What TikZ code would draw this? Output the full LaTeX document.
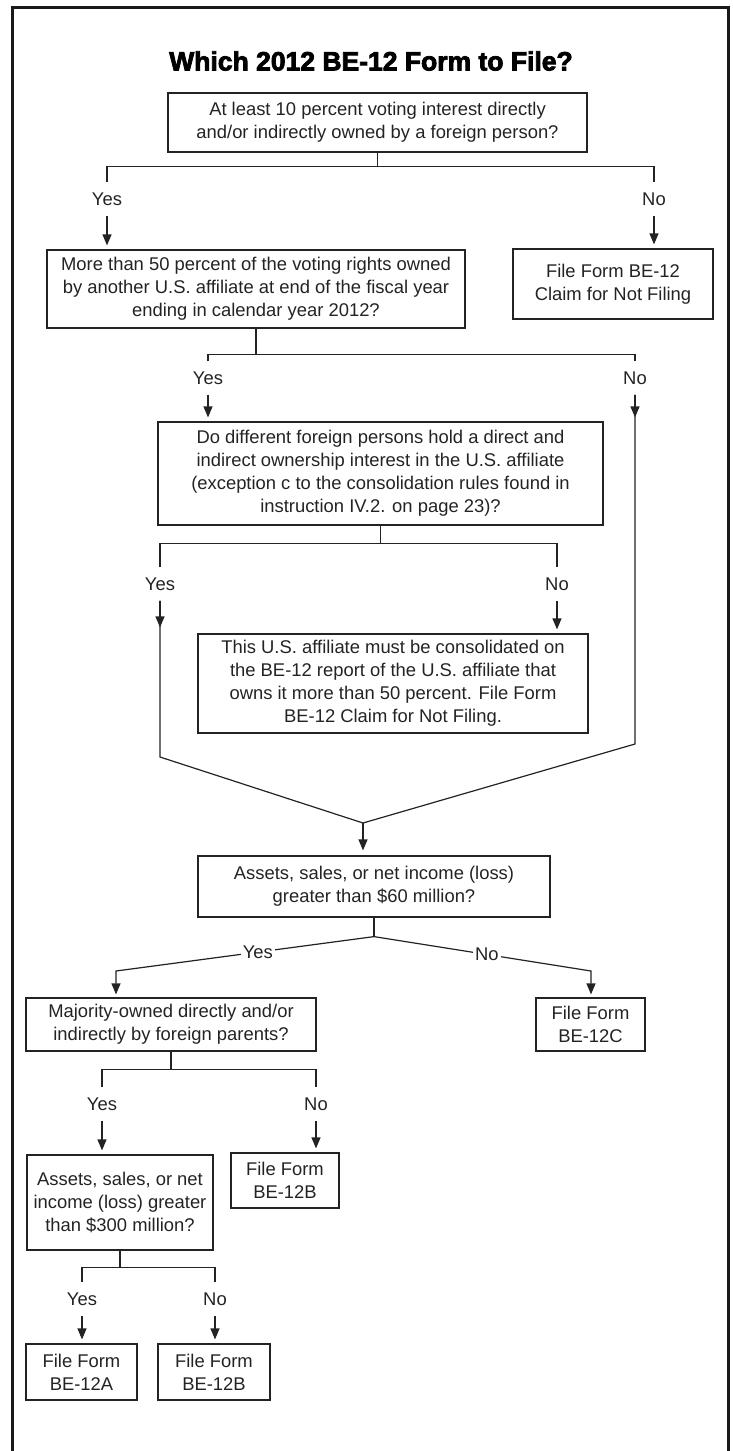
\documentclass[tikz,border=0pt]{standalone}
\usepackage{fontspec}
\setmainfont{Liberation Sans}
\newfontfamily\titlefont[FakeBold=3]{Liberation Sans Bold}
\usepackage{tikz}
\usetikzlibrary{arrows.meta,calc}
\definecolor{inkgray}{RGB}{35,35,35}
\definecolor{framegray}{RGB}{25,25,25}
\begin{document}
\begin{tikzpicture}[x=1pt,y=-1pt,every node/.style={font=\fontsize{18.4}{23}\selectfont,text=inkgray},
    qbox/.style={draw=inkgray,line width=1.2pt,inner sep=0pt,align=center},
    lbl/.style={inner sep=0pt,text height=13pt,text depth=4pt},
    slbl/.style={fill=white,inner xsep=2pt,inner ysep=1pt},
    wire/.style={draw=inkgray,line width=1.2pt},
    brk/.style={wire,shorten <=10pt,shorten >=10pt},
    tip/.style={wire,-{Triangle[length=11pt,width=9pt]}},
    larw/.style={tip,shorten <=6pt,shorten >=4pt}]
    \useasboundingbox (0,0) rectangle (732,1451);
    \draw[line width=3pt,draw=framegray] (12,1451) -- (12,7) -- (728,7) -- (728,1451);
    \node[font=\titlefont\fontsize{26.5}{30}\selectfont,text=black] (ttl) at (371,61) {Which 2012 BE-12 Form to File?};
    \node[qbox,minimum width=419pt,minimum height=59pt] (q1) at (377.5,122.5) {At least 10 percent voting interest directly\\and/or indirectly owned by a foreign person?};
    \node[qbox,minimum width=200pt,minimum height=70pt] (nf) at (613,284) {File Form BE-12\\Claim for Not Filing};
    \node[qbox,minimum width=418pt,minimum height=78pt] (q2) at (256,289) {More than 50 percent of the voting rights owned\\by another U.S. affiliate at end of the fiscal year\\ending in calendar year 2012?};
    \node[qbox,minimum width=445pt,minimum height=103pt] (q3) at (380.5,473.5) {Do different foreign persons hold a direct and\\indirect ownership interest in the U.S. affiliate\\(exception c to the consolidation rules found in\\instruction IV.2. on page 23)?};
    \node[qbox,minimum width=390pt,minimum height=99pt] (q4) at (393,683.5) {This U.S. affiliate must be consolidated on\\the BE-12 report of the U.S. affiliate that\\owns it more than 50 percent. File Form\\BE-12 Claim for Not Filing.};
    \node[qbox,minimum width=352pt,minimum height=61pt] (q5) at (374,886.5) {Assets, sales, or net income (loss)\\greater than \$60 million?};
    \node[qbox,minimum width=290pt,minimum height=53pt] (q6) at (171,1024.5) {Majority-owned directly and/or\\indirectly by foreign parents?};
    \node[qbox,minimum width=109pt,minimum height=53pt] (f12c) at (590.5,1024.5) {File Form\\BE-12C};
    \node[qbox,minimum width=186pt,minimum height=95pt] (q8) at (120,1202.5) {Assets, sales, or net\\income (loss) greater\\than \$300 million?};
    \node[qbox,minimum width=108pt,minimum height=55pt] (f12b) at (285,1180.5) {File Form\\BE-12B};
    \node[qbox,minimum width=111pt,minimum height=56pt] (f12a) at (81.5,1372) {File Form\\BE-12A};
    \node[qbox,minimum width=112pt,minimum height=56pt] (f12bb) at (214,1372) {File Form\\BE-12B};
    \node[lbl] (y1) at (107,201) {Yes}; \node[lbl] (n1) at (654,201) {No};
    \node[lbl] (y2) at (208,380) {Yes}; \node[lbl] (n2) at (635,380) {No};
    \node[lbl] (y3) at (160,586) {Yes}; \node[lbl] (n3) at (557,586) {No};
    \node[lbl] (y6) at (102,1106) {Yes}; \node[lbl] (n6) at (316,1106) {No};
    \node[lbl] (y8) at (82,1301) {Yes}; \node[lbl] (n8) at (215,1301) {No};
    \coordinate (r2) at (635,744); \coordinate (l2) at (160,757); \coordinate (mj) at (363,823);
    \coordinate (ky) at (116,971); \coordinate (kn) at (591,971);
    \draw[wire] (q1.south) -- ++(0,14) coordinate (b1); \draw[brk] (y1.north) |- (b1) -| (n1.north);
    \draw[larw] (y1.south) -- (y1.south |- q2.north); \draw[larw] (n1.south) -- (n1.south |- nf.north);
    \draw[wire] (q2.south) -- ++(0,26) coordinate (b2); \draw[brk] (y2.north) |- (b2) -| (n2.north);
    \draw[larw] (y2.south) -- (y2.south |- q3.north);
    \draw[wire,shorten <=6pt] (n2.south) -- (r2) -- (mj); \draw[larw] (n2.south) -- (n2.south |- q3.north);
    \draw[wire] (q3.south) -- ++(0,18) coordinate (b3); \draw[brk] (y3.north) |- (b3) -| (n3.north);
    \draw[wire,shorten <=6pt] (y3.south) -- (l2) -- (mj); \draw[larw,shorten >=6pt] (y3.south) -- (y3.south |- q4.north);
    \draw[larw] (n3.south) -- (n3.south |- q4.north);
    \draw[tip,shorten >=5pt] (mj) -- (mj |- q5.north);
    \draw[wire] (q5.south) -- ++(0,19) coordinate (s5);
    \draw[tip,shorten >=3pt] (s5) -- node[slbl,pos=.45] {Yes} (ky) -- (ky |- q6.north);
    \draw[tip,shorten >=3pt] (s5) -- node[slbl,pos=.52] {No} (kn) -- (kn |- f12c.north);
    \draw[wire] (q6.south) -- ++(0,18) coordinate (b6); \draw[brk] (y6.north) |- (b6) -| (n6.north);
    \draw[larw] (y6.south) -- (y6.south |- q8.north); \draw[larw] (n6.south) -- (n6.south |- f12b.north);
    \draw[wire] (q8.south) -- ++(0,17) coordinate (b8); \draw[brk] (y8.north) |- (b8) -| (n8.north);
    \draw[larw] (y8.south) -- (y8.south |- f12a.north); \draw[larw] (n8.south) -- (n8.south |- f12bb.north);
  \end{tikzpicture}
\end{document}
